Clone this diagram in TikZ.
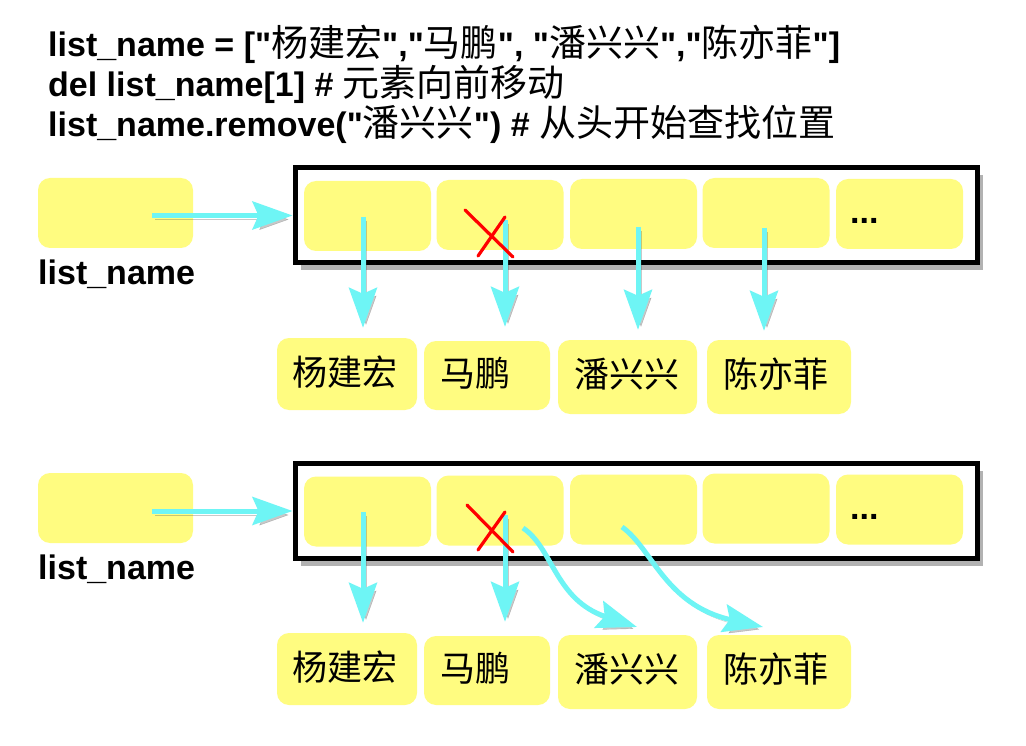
\documentclass[tikz,border=0pt]{standalone}
\usepackage{fontspec}
\setmainfont{Liberation Sans}
\newfontfamily\cjk{Noto Sans CJK SC}
\newcommand\zhtext[1]{{\cjk\mdseries\fontsize{37}{40}\selectfont #1}}
\newcommand\qd{\textquotedbl}
\usetikzlibrary{arrows.meta,shadows}
\definecolor{cellyellow}{HTML}{FFFC80}
\definecolor{arrcyan}{HTML}{6EF5F5}
\begin{document}
\begin{tikzpicture}[x=1pt,y=-1pt,
  cell/.style={fill=cellyellow, rounded corners=12pt, minimum width=127pt, minimum height=70pt, inner sep=0pt},
  vbox/.style={fill=cellyellow, rounded corners=12pt, inner sep=0pt},
  frame/.style={draw=black, line width=5pt, fill=white, minimum width=682pt, minimum height=95pt, inner sep=0pt,
    drop shadow={shadow xshift=6pt, shadow yshift=-7pt, opacity=0.3, fill=black}},
  arr/.style={draw=arrcyan, line width=5pt, -{Stealth[length=40pt,width=28pt,inset=6pt]},
    preaction={draw=black!70, opacity=0.3, transform canvas={shift={(3pt,-4pt)}}}},
  xline/.style={draw=red, line width=3.2pt, line cap=round},
  code/.style={anchor=base west, inner sep=0pt, font=\bfseries\fontsize{34}{40}\selectfont},
  lbl/.style={anchor=base west, inner sep=0pt, font=\bfseries\fontsize{34}{40}\selectfont},
  dots/.style={anchor=base west, inner sep=0pt, font=\bfseries\fontsize{34}{40}\selectfont},
  vtext/.style={inner sep=0pt, font=\cjk\fontsize{35}{40}\selectfont},
]
\fill[white] (0,0) rectangle (1026,746);
\useasboundingbox (0,0) rectangle (1026,746);

% code lines
\node[code] (L1) at (48,57) {list\_name = [\qd\zhtext{杨建宏}\qd,\qd\zhtext{马鹏}\qd, \qd\zhtext{潘兴兴}\qd,\qd\zhtext{陈亦菲}\qd]};
\node[code] (L2) at (48,97) {del list\_name[1] \# \zhtext{元素向前移动}};
\node[code] (L3) at (48,137) {list\_name.remove(\qd\zhtext{潘兴兴}\qd) \# \zhtext{从头开始查找位置}};

% ===== top panel =====
\node[vbox, minimum width=155pt, minimum height=70pt] (v1) at (115.5,213) {};
\node[lbl] (l1) at (38,284) {list\_name};
\node[frame] (f1) at (636,215.5) {};
\node[cell] (c1) at (367.5,216) {};
\node[cell] (c2) at (500,215) {};
\node[cell] (c3) at (633.5,214) {};
\node[cell] (c4) at (766,213) {};
\node[cell] (c5) at (899.5,214) {};
\node[dots] (d1) at (850,224) {...};
\node[vbox, minimum width=140pt, minimum height=72pt] (t1) at (347,374) {};
\node[vbox, minimum width=126pt, minimum height=69pt] (t2) at (487,375.5) {};
\node[vbox, minimum width=139pt, minimum height=74pt] (t3) at (627.5,377) {};
\node[vbox, minimum width=144pt, minimum height=74pt] (t4) at (779,377) {};
\node[vtext] (n1) at (345,372) {杨建宏};
\node[vtext] (n2) at (475,373) {马鹏};
\node[vtext] (n3) at (627,374) {潘兴兴};
\node[vtext] (n4) at (776,374) {陈亦菲};

\coordinate (s1) at (152,215.5);
\coordinate (a1) at (363,217);
\coordinate (a2) at (505,220);
\coordinate (a3) at (638,227);
\coordinate (a4) at (764,228);
\draw[arr] (s1) -- (f1.west);
\draw[arr, shorten >=10pt] (a1) -- (a1 |- t1.north);
\draw[arr, shorten >=14pt] (a2) -- (a2 |- t2.north);
\draw[arr, shorten >=10pt] (a3) -- (a3 |- t3.north);
\draw[arr, shorten >=9pt] (a4) -- (a4 |- t4.north);
\draw[xline] (465,210) -- (513,257);
\draw[xline] (478,256) -- (505,217);

% ===== bottom panel =====
\node[vbox, minimum width=155pt, minimum height=70pt] (v2) at (115.5,508) {};
\node[lbl] (l2) at (38,579) {list\_name};
\node[frame] (f2) at (636,511) {};
\node[cell] (c1b) at (367.5,511.5) {};
\node[cell] (c2b) at (500,510.5) {};
\node[cell] (c3b) at (633.5,509.5) {};
\node[cell] (c4b) at (766,508.5) {};
\node[cell] (c5b) at (899.5,509.5) {};
\node[dots] (d2) at (850,519) {...};
\node[vbox, minimum width=140pt, minimum height=72pt] (t1b) at (347,669) {};
\node[vbox, minimum width=126pt, minimum height=69pt] (t2b) at (487,670.5) {};
\node[vbox, minimum width=139pt, minimum height=74pt] (t3b) at (627.5,672) {};
\node[vbox, minimum width=144pt, minimum height=74pt] (t4b) at (779,672) {};
\node[vtext] (n1b) at (345,667) {杨建宏};
\node[vtext] (n2b) at (475,668) {马鹏};
\node[vtext] (n3b) at (627,669) {潘兴兴};
\node[vtext] (n4b) at (776,669) {陈亦菲};

\coordinate (s2) at (152,511);
\coordinate (b1) at (363,512);
\coordinate (b2) at (505,515);
\coordinate (b3) at (523,528);
\coordinate (e3) at (637,627);
\coordinate (b4) at (622,527);
\coordinate (e4) at (763,627);
\draw[arr] (s2) -- (f2.west);
\draw[arr, shorten >=10pt] (b1) -- (b1 |- t1b.north);
\draw[arr, shorten >=14pt] (b2) -- (b2 |- t2b.north);
\draw[arr] (b3) .. controls (553,548) and (555,600) .. (e3);
\draw[arr] (b4) .. controls (652,548) and (665,605) .. (e4);
\draw[xline] (467,505) -- (513,552);
\draw[xline] (478,550) -- (505,512);
\end{tikzpicture}
\end{document}
